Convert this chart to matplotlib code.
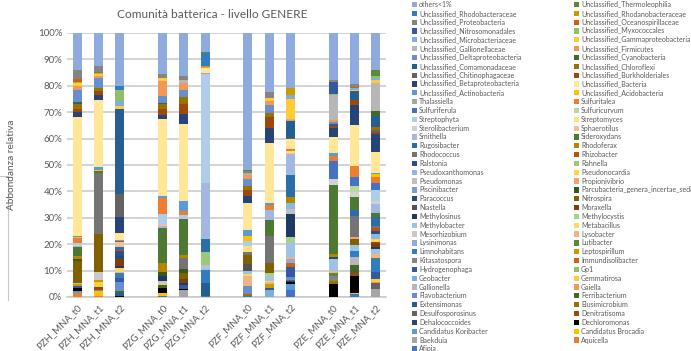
import colorsys
import matplotlib
matplotlib.use("Agg")
import matplotlib.pyplot as plt
from matplotlib.patches import Rectangle
from matplotlib.lines import Line2D
from matplotlib.colors import to_rgb

# Genera in series order (first = bottom of each stack)
genera = [
    "Afipia", "Aquicella", "Baekduia", "Candidatus Brocadia", "Candidatus Koribacter",
    "Dechloromonas", "Dehalococcoides", "Denitratisoma", "Desulfosporosinus", "Elusimicrobium",
    "Extensimonas", "Ferribacterium", "Flavobacterium", "Gaiella", "Gallionella",
    "Gemmatirosa", "Geobacter", "Gp1", "Hydrogenophaga", "Immundisolibacter",
    "Kitasatospora", "Leptospirillum", "Limnohabitans", "Lutibacter", "Lysinimonas",
    "Lysobacter", "Mesorhizobium", "Metabacillus", "Methylobacter", "Methylocystis",
    "Methylosinus", "Moraxella", "Niastella", "Nitrospira", "Paracoccus",
    "Parcubacteria_genera_incertae_sedis", "Piscinibacter", "Propionivibrio", "Pseudomonas",
    "Pseudonocardia", "Pseudoxanthomonas", "Rahnella", "Ralstonia", "Rhizobacter",
    "Rhodococcus", "Rhodoferax", "Rugosibacter", "Sideroxydans", "Smithella",
    "Sphaerotilus", "Sterolibacterium", "Streptomyces", "Streptophyta", "Sulfuricurvum",
    "Sulfuriferula", "Sulfuritalea", "Thalassiella", "Unclassified_Acidobacteria",
    "Unclassified_Actinobacteria", "Unclassified_Bacteria", "Unclassified_Betaproteobacteria",
    "Unclassified_Burkholderiales", "Unclassified_Chitinophagaceae", "Unclassified_Chloroflexi",
    "Unclassified_Comamonadaceae", "Unclassified_Cyanobacteria", "Unclassified_Deltaproteobacteria",
    "Unclassified_Firmicutes", "Unclassified_Gallionellaceae", "Unclassified_Gammaproteobacteria",
    "Unclassified_Microbacteriaceae", "Unclassified_Myxococcales", "Unclassified_Nitrosomonadales",
    "Unclassified_Oceanospirillaceae", "Unclassified_Proteobacteria", "Unclassified_Rhodanobacteraceae",
    "Unclassified_Rhodobacteraceae", "Unclassified_Thermoleophilia", "others<1%",
]

samples = ["PZH_MNA_t0", "PZH_MNA_t1", "PZH_MNA_t2",
           "PZG_MNA_t0", "PZG_MNA_t1", "PZG_MNA_t2",
           "PZF_MNA_t0", "PZF_MNA_t1", "PZF_MNA_t2",
           "PZE_MNA_t0", "PZE_MNA_t1", "PZE_MNA_t2"]

# Relative abundances (%) per sample
pzh_t0 = {"others<1%": 13.6, "Unclassified_Proteobacteria": 3.4, "Unclassified_Oceanospirillaceae": 1.3,
          "Unclassified_Myxococcales": 0.3, "Unclassified_Gammaproteobacteria": 1.0,
          "Unclassified_Firmicutes": 1.5, "Unclassified_Deltaproteobacteria": 4.5,
          "Unclassified_Cyanobacteria": 0.3, "Unclassified_Comamonadaceae": 0.3,
          "Unclassified_Chloroflexi": 1.9, "Unclassified_Burkholderiales": 1.0,
          "Unclassified_Betaproteobacteria": 1.9, "Unclassified_Bacteria": 44.2,
          "Unclassified_Actinobacteria": 0.3, "Unclassified_Acidobacteria": 0.3, "Sulfuritalea": 1.9,
          "Streptophyta": 0.8, "Sterolibacterium": 0.4, "Smithella": 0.4, "Sideroxydans": 3.4,
          "Rhodoferax": 0.9, "Parcubacteria_genera_incertae_sedis": 0.6, "Nitrospira": 8.3,
          "Methylobacter": 0.4, "Leptospirillum": 0.9, "Hydrogenophaga": 0.6, "Dechloromonas": 1.0,
          "Candidatus Koribacter": 0.9, "Aquicella": 1.4}
pzh_t1 = {"others<1%": 12.2, "Unclassified_Proteobacteria": 2.5, "Unclassified_Oceanospirillaceae": 0.4,
          "Unclassified_Myxococcales": 0.3, "Unclassified_Gammaproteobacteria": 0.6,
          "Unclassified_Firmicutes": 0.9, "Unclassified_Deltaproteobacteria": 3.5,
          "Unclassified_Chloroflexi": 1.3, "Unclassified_Burkholderiales": 1.3,
          "Unclassified_Betaproteobacteria": 1.9, "Unclassified_Bacteria": 25.3,
          "Unclassified_Actinobacteria": 0.8, "Unclassified_Acidobacteria": 0.7, "Sideroxydans": 0.6,
          "Rhodococcus": 22.7, "Nitrospira": 14.1, "Mesorhizobium": 3.2, "Leptospirillum": 0.6,
          "Gemmatirosa": 1.8, "Gaiella": 0.3, "Ferribacterium": 0.3, "Denitratisoma": 0.5,
          "Candidatus Koribacter": 0.6, "Candidatus Brocadia": 1.9, "Aquicella": 0.3}
pzh_t2 = {"others<1%": 20.2, "Unclassified_Rhodobacteraceae": 1.5, "Unclassified_Myxococcales": 3.9,
          "Unclassified_Microbacteriaceae": 1.9, "Unclassified_Gammaproteobacteria": 1.3,
          "Unclassified_Comamonadaceae": 32.2, "Unclassified_Chitinophagaceae": 8.6,
          "Unclassified_Betaproteobacteria": 6.0, "Unclassified_Bacteria": 2.7, "Sulfuritalea": 0.5,
          "Sulfuriferula": 0.5, "Sphaerotilus": 1.6, "Rugosibacter": 1.2, "Rhizobacter": 0.6,
          "Ralstonia": 1.9, "Paracoccus": 1.0, "Moraxella": 2.5, "Methylosinus": 1.0,
          "Metabacillus": 1.3, "Lysobacter": 0.6, "Limnohabitans": 1.9, "Hydrogenophaga": 1.3,
          "Flavobacterium": 3.6, "Ferribacterium": 0.7, "Extensimonas": 1.0, "Dechloromonas": 0.5}
pzg_t0 = {"others<1%": 15.2, "Unclassified_Proteobacteria": 1.3, "Unclassified_Gammaproteobacteria": 1.3,
          "Unclassified_Firmicutes": 5.4, "Unclassified_Deltaproteobacteria": 2.5,
          "Unclassified_Cyanobacteria": 0.6, "Unclassified_Chloroflexi": 1.9,
          "Unclassified_Burkholderiales": 2.1, "Unclassified_Betaproteobacteria": 1.6,
          "Unclassified_Bacteria": 28.2, "Unclassified_Actinobacteria": 0.9, "Sulfuritalea": 6.0,
          "Streptophyta": 3.5, "Sphaerotilus": 0.6, "Smithella": 0.8, "Sideroxydans": 13.2,
          "Rhodoferax": 3.3, "Parcubacteria_genera_incertae_sedis": 1.5, "Methylosinus": 1.7,
          "Mesorhizobium": 1.0, "Ferribacterium": 0.8, "Gemmatirosa": 0.6, "Dechloromonas": 2.0,
          "Candidatus Brocadia": 1.0, "Afipia": 0.5}
pzg_t1 = {"others<1%": 15.8, "Unclassified_Proteobacteria": 1.6, "Unclassified_Gallionellaceae": 1.2,
          "Unclassified_Firmicutes": 2.5, "Unclassified_Deltaproteobacteria": 2.8,
          "Unclassified_Chloroflexi": 2.3, "Unclassified_Burkholderiales": 3.8,
          "Unclassified_Betaproteobacteria": 3.8, "Unclassified_Bacteria": 28.4,
          "Unclassified_Actinobacteria": 3.8, "Sulfuritalea": 1.6, "Streptophyta": 1.5,
          "Sideroxydans": 13.3, "Rhodoferax": 1.3, "Rhodococcus": 3.8,
          "Parcubacteria_genera_incertae_sedis": 1.5, "Nitrospira": 2.5, "Moraxella": 1.3,
          "Methylosinus": 0.8, "Hydrogenophaga": 1.3, "Dechloromonas": 0.6, "Baekduia": 2.5}
pzg_t2 = {"others<1%": 7.2, "Unclassified_Thermoleophilia": 0.4, "Unclassified_Rhodobacteraceae": 4.8,
          "Unclassified_Rhodanobacteraceae": 0.3, "Unclassified_Firmicutes": 0.4,
          "Unclassified_Bacteria": 1.9, "Thalassiella": 0.3, "Streptophyta": 40.5, "Smithella": 21.1,
          "Rugosibacter": 4.7, "Rahnella": 4.7, "Pseudomonas": 1.3, "Methylobacter": 0.6,
          "Limnohabitans": 5.1, "Extensimonas": 4.6, "Afipia": 0.5}
pzf_t0 = {"others<1%": 50.1, "Unclassified_Thermoleophilia": 0.5, "Unclassified_Proteobacteria": 0.6,
          "Unclassified_Myxococcales": 0.5, "Unclassified_Gallionellaceae": 0.4,
          "Unclassified_Firmicutes": 1.5, "Unclassified_Deltaproteobacteria": 2.5,
          "Unclassified_Chloroflexi": 1.3, "Unclassified_Burkholderiales": 2.3,
          "Unclassified_Betaproteobacteria": 2.5, "Unclassified_Bacteria": 10.1,
          "Unclassified_Actinobacteria": 1.9, "Unclassified_Acidobacteria": 2.1, "Streptophyta": 1.6,
          "Streptomyces": 2.5, "Rhodococcus": 1.0, "Nitrospira": 3.1, "Niastella": 2.5,
          "Methylobacter": 1.3, "Metabacillus": 0.6, "Lysobacter": 3.8, "Flavobacterium": 2.9,
          "Elusimicrobium": 0.6, "Afipia": 0.5}
pzf_t1 = {"others<1%": 21.2, "Unclassified_Proteobacteria": 2.1, "Unclassified_Gammaproteobacteria": 1.0,
          "Unclassified_Firmicutes": 1.5, "Unclassified_Deltaproteobacteria": 2.9,
          "Unclassified_Chloroflexi": 1.5, "Unclassified_Burkholderiales": 3.8,
          "Unclassified_Betaproteobacteria": 5.3, "Unclassified_Bacteria": 21.8,
          "Unclassified_Actinobacteria": 0.6, "Sulfuritalea": 1.9, "Smithella": 3.4,
          "Sideroxydans": 5.8, "Rhodococcus": 9.7, "Nitrospira": 3.7, "Methylobacter": 1.3,
          "Methylocystis": 1.3, "Metabacillus": 0.6, "Lysobacter": 0.6, "Leptospirillum": 1.3,
          "Hydrogenophaga": 0.9, "Geobacter": 2.5}
pzf_t2 = {"others<1%": 20.2, "Unclassified_Rhodanobacteraceae": 2.5, "Unclassified_Microbacteriaceae": 1.5,
          "Unclassified_Gammaproteobacteria": 7.3, "Unclassified_Gallionellaceae": 0.5,
          "Unclassified_Firmicutes": 0.5, "Unclassified_Comamonadaceae": 5.9,
          "Unclassified_Chitinophagaceae": 0.6, "Unclassified_Bacteria": 3.8, "Sulfuritalea": 0.6,
          "Streptomyces": 0.6, "Sphaerotilus": 0.6, "Smithella": 7.6, "Rugosibacter": 8.2,
          "Rhodoferax": 1.9, "Pseudoxanthomonas": 2.5, "Pseudomonas": 1.6, "Methylosinus": 8.5,
          "Methylocystis": 2.1, "Methylobacter": 5.4, "Lysobacter": 0.6, "Lysinimonas": 1.5,
          "Immundisolibacter": 1.3, "Hydrogenophaga": 3.8, "Flavobacterium": 1.0,
          "Desulfosporosinus": 0.4, "Dehalococcoides": 0.6, "Dechloromonas": 0.5,
          "Candidatus Koribacter": 2.3, "Afipia": 2.6}
pze_t0 = {"others<1%": 17.4, "Unclassified_Proteobacteria": 0.6, "Unclassified_Nitrosomonadales": 4.5,
          "Unclassified_Myxococcales": 0.5, "Unclassified_Gallionellaceae": 9.2,
          "Unclassified_Firmicutes": 0.6, "Unclassified_Deltaproteobacteria": 0.6,
          "Unclassified_Comamonadaceae": 0.9, "Unclassified_Burkholderiales": 0.8,
          "Unclassified_Betaproteobacteria": 3.4, "Unclassified_Bacteria": 5.7,
          "Unclassified_Actinobacteria": 1.3, "Sulfuritalea": 1.9, "Sulfuriferula": 6.3,
          "Sterolibacterium": 2.3, "Sideroxydans": 25.5, "Rhodoferax": 1.0, "Paracoccus": 0.9,
          "Methylobacter": 4.5, "Lysobacter": 0.5, "Lutibacter": 1.3, "Kitasatospora": 1.9,
          "Elusimicrobium": 0.9, "Dechloromonas": 4.9}
pze_t1 = {"others<1%": 19.2, "Unclassified_Proteobacteria": 1.0, "Unclassified_Oceanospirillaceae": 0.5,
          "Unclassified_Microbacteriaceae": 0.5, "Unclassified_Gammaproteobacteria": 0.5,
          "Unclassified_Comamonadaceae": 3.2, "Unclassified_Burkholderiales": 2.0,
          "Unclassified_Betaproteobacteria": 7.6, "Unclassified_Bacteria": 15.1, "Sulfuritalea": 4.2,
          "Sulfuriferula": 3.4, "Sulfuricurvum": 2.1, "Sterolibacterium": 1.9, "Sideroxydans": 5.0,
          "Rugosibacter": 1.9, "Rhodococcus": 8.2, "Propionivibrio": 0.6, "Nitrospira": 2.1,
          "Methylobacter": 2.5, "Limnohabitans": 1.9, "Gallionella": 3.2, "Ferribacterium": 3.0,
          "Denitratisoma": 0.9, "Dechloromonas": 6.4, "Candidatus Brocadia": 0.6, "Afipia": 1.0}
pze_t2 = {"others<1%": 13.8, "Unclassified_Thermoleophilia": 2.1, "Unclassified_Myxococcales": 0.8,
          "Unclassified_Microbacteriaceae": 0.6, "Unclassified_Gammaproteobacteria": 1.4,
          "Unclassified_Gallionellaceae": 10.1, "Unclassified_Cyanobacteria": 1.9,
          "Unclassified_Comamonadaceae": 4.2, "Unclassified_Chloroflexi": 1.0,
          "Unclassified_Chitinophagaceae": 0.8, "Unclassified_Burkholderiales": 0.8,
          "Unclassified_Betaproteobacteria": 6.6, "Unclassified_Bacteria": 7.6,
          "Unclassified_Actinobacteria": 0.6, "Unclassified_Acidobacteria": 1.2, "Sulfuritalea": 2.0,
          "Sulfuriferula": 2.8, "Streptophyta": 3.8, "Sterolibacterium": 1.3, "Smithella": 3.2,
          "Sideroxydans": 1.6, "Rugosibacter": 3.2, "Rhodococcus": 0.8, "Rhizobacter": 1.3,
          "Ralstonia": 0.9, "Pseudoxanthomonas": 1.9, "Pseudonocardia": 1.0, "Nitrospira": 0.6,
          "Moraxella": 1.3, "Methylosinus": 0.8, "Methylobacter": 2.0, "Lysobacter": 1.3,
          "Lutibacter": 0.5, "Limnohabitans": 4.7, "Hydrogenophaga": 2.6, "Gemmatirosa": 1.0,
          "Gaiella": 0.5, "Desulfosporosinus": 2.3, "Baekduia": 2.9}

abundances = [pzh_t0, pzh_t1, pzh_t2, pzg_t0, pzg_t1, pzg_t2,
              pzf_t0, pzf_t1, pzf_t2, pze_t0, pze_t1, pze_t2]

# Office theme accents and the per-cycle luminance variations used for chart series
accents = ["#4472C4", "#ED7D31", "#A5A5A5", "#FFC000", "#5B9BD5", "#70AD47"]
variations = [(1.0, 0.0), (0.6, 0.0), (0.8, 0.2), (0.8, 0.0), (0.6, 0.4),
              (0.5, 0.0), (0.7, 0.3), (0.7, 0.0), (0.5, 0.5)]
custom_colors = {"Dechloromonas": "#000000", "Unclassified_Bacteria": "#FFE699"}


def series_color(i, name):
    if name in custom_colors:
        return custom_colors[name]
    r, g, b = to_rgb(accents[i % 6])
    mod, off = variations[(i // 6) % len(variations)]
    h, l, s = colorsys.rgb_to_hls(r, g, b)
    l = min(1.0, l * mod + off)
    return colorsys.hls_to_rgb(h, l, s)


colors = [series_color(i, g) for i, g in enumerate(genera)]

W, H = 691, 351
fig = plt.figure(figsize=(W / 100, H / 100), dpi=100)
ax = fig.add_axes([66.5 / W, 1 - 297 / H, (386.4 - 66.5) / W, 264 / H])

txt = "#595959"
font = "Lato"

# blank slot between each group of three samples
xpos = [i + i // 3 for i in range(len(samples))]
totals = [sum(d.values()) for d in abundances]
bottom = [0.0] * len(samples)
for k, g in enumerate(genera):
    vals = [d.get(g, 0.0) / t * 100 for d, t in zip(abundances, totals)]
    ax.bar(xpos, vals, bottom=bottom, width=0.42, color=colors[k], linewidth=0, zorder=3)
    bottom = [b + v for b, v in zip(bottom, vals)]

ax.set_xlim(-0.5, 14.5)
ax.set_ylim(0, 100)
ax.set_yticks(range(0, 101, 10))
ax.set_yticklabels([f"{v}%" for v in range(0, 101, 10)], fontsize=7, color=txt, family=font)
ax.set_xticks(xpos)
ax.set_xticklabels(samples, rotation=45, ha="right", rotation_mode="anchor",
                   fontsize=6.9, color=txt, family=font)
ax.tick_params(length=0, pad=3)
ax.tick_params(axis="x", pad=4)
ax.grid(axis="y", color="#C8C8C8", linewidth=1.1, zorder=0)
for sp in ["top", "right", "left"]:
    ax.spines[sp].set_visible(False)
ax.spines["bottom"].set_color("#C8C8C8")
ax.spines["bottom"].set_linewidth(1.1)

fig.text(212 / W, 1 - 14 / H, "Comunità batterica - livello GENERE", ha="center", va="center",
         fontsize=8.6, color=txt, family=font)
fig.text(12 / W, 1 - 165 / H, "Abbondanza relativa", rotation=90, ha="center", va="center",
         fontsize=7.2, color=txt, family=font)

# thin frame edge at the far left of the sheet
fig.add_artist(Line2D([0 / W, 8 / W, 8 / W], [1 - 176 / H, 1 - 176 / H, 1 - 300 / H],
                      transform=fig.transFigure, color="#C8C8C8", linewidth=0.8))

# Two-column legend, filled row by row from the last series to the first
order = list(range(len(genera) - 1, -1, -1))
row_h = 8.83
for n, k in enumerate(order):
    row, col = divmod(n, 2)
    mx = 412 if col == 0 else 574
    yc = 4.5 + row * row_h
    fig.add_artist(Rectangle((mx / W, 1 - (yc + 2.6) / H), 5.2 / W, 5.2 / H,
                             transform=fig.transFigure, facecolor=colors[k], edgecolor="none"))
    fig.text((mx + 7) / W, 1 - yc / H, genera[k], ha="left", va="center",
             fontsize=5.0, color=txt, family=font)

fig.savefig("out.png", dpi=100)
